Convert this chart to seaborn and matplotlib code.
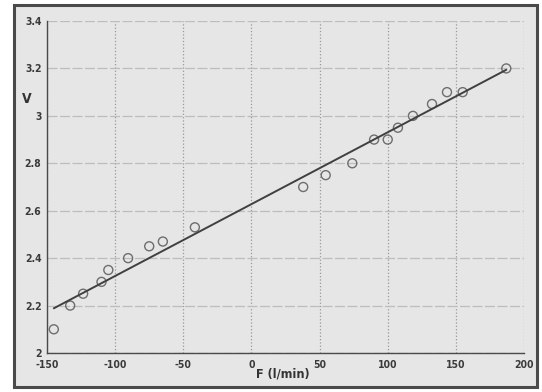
import matplotlib
matplotlib.use("Agg")
import matplotlib.pyplot as plt
from matplotlib.patches import Rectangle
import seaborn as sns
import pandas as pd

# Measured flow rate (l/min) and voltage (V)
flow = [-145, -133, -123.5, -110, -105, -90.5, -75, -65, -41.5,
        38, 54.5, 74, 90, 100, 107.5, 118.5, 132.5, 143.5, 155, 187]
volt = [2.10, 2.20, 2.25, 2.30, 2.35, 2.40, 2.45, 2.47, 2.53,
        2.70, 2.75, 2.80, 2.90, 2.90, 2.95, 3.00, 3.05, 3.10, 3.10, 3.20]

x_ticks = [-150, -100, -50, 0, 50, 100, 150, 200]
y_ticks = [2.0, 2.2, 2.4, 2.6, 2.8, 3.0, 3.2, 3.4]
y_tick_labels = ["2", "2.2", "2.4", "2.6", "2.8", "3", "3.2", "3.4"]

df = pd.DataFrame({"F": flow, "V": volt})

sns.set_style("white")
plt.rcParams["font.family"] = ["DejaVu Sans"]
plt.rcParams["font.stretch"] = "condensed"

fig = plt.figure(figsize=(5.42, 3.92), dpi=100)
fig.patch.set_facecolor("white")

# grey panel with a dark frame behind the axes
W, H = 542, 392
panel = Rectangle((14 / W, 5 / H), (537 - 14) / W, (387 - 5) / H,
                  transform=fig.transFigure, facecolor="#e6e6e6",
                  edgecolor="#4a4a4a", linewidth=2.2, zorder=-10)
fig.patches.append(panel)

ax = fig.add_axes([47 / W, 39 / H, (524 - 47) / W, (371 - 39) / H])
ax.set_zorder(5)
ax.set_facecolor("#e6e6e6")

sns.regplot(data=df, x="F", y="V", ax=ax, ci=None, truncate=True,
            scatter_kws=dict(marker="o", s=42, facecolors="none",
                             edgecolors="#505050", linewidths=1.0),
            line_kws=dict(color="#404040", linewidth=1.4))

ax.set_xlim(-150, 200)
ax.set_ylim(2.0, 3.4)
ax.set_xticks(x_ticks)
ax.set_xticklabels([str(t) for t in x_ticks])
ax.set_yticks(y_ticks)
ax.set_yticklabels(y_tick_labels)

ax.grid(True, axis="x", linestyle=":", color="#999999", linewidth=0.9)
ax.grid(True, axis="y", linestyle="--", dashes=(8, 2), color="#bdbdbd", linewidth=0.9)
ax.set_axisbelow(True)

for side in ("top", "right"):
    ax.spines[side].set_visible(False)
for side in ("left", "bottom"):
    ax.spines[side].set_color("#4a4a4a")
    ax.spines[side].set_linewidth(1.0)

ax.tick_params(axis="x", direction="in", length=7, width=1.0, color="#4a4a4a",
               labelsize=7.5, labelcolor="#3a3a3a", pad=5)
ax.tick_params(axis="y", direction="out", length=3, width=1.0, color="#4a4a4a",
               labelsize=7.5, labelcolor="#3a3a3a", pad=1)
for lab in ax.get_xticklabels() + ax.get_yticklabels():
    lab.set_fontweight("bold")

ax.set_xlabel("F (l/min)", fontsize=9, fontweight="bold", color="#333333")
ax.xaxis.set_label_coords(0.495, -0.045)
ax.set_ylabel("V", fontsize=10, fontweight="bold", color="#333333", rotation=0)
ax.yaxis.set_label_coords(-0.042, 0.745)

fig.savefig("out.png", dpi=100, facecolor="white")
